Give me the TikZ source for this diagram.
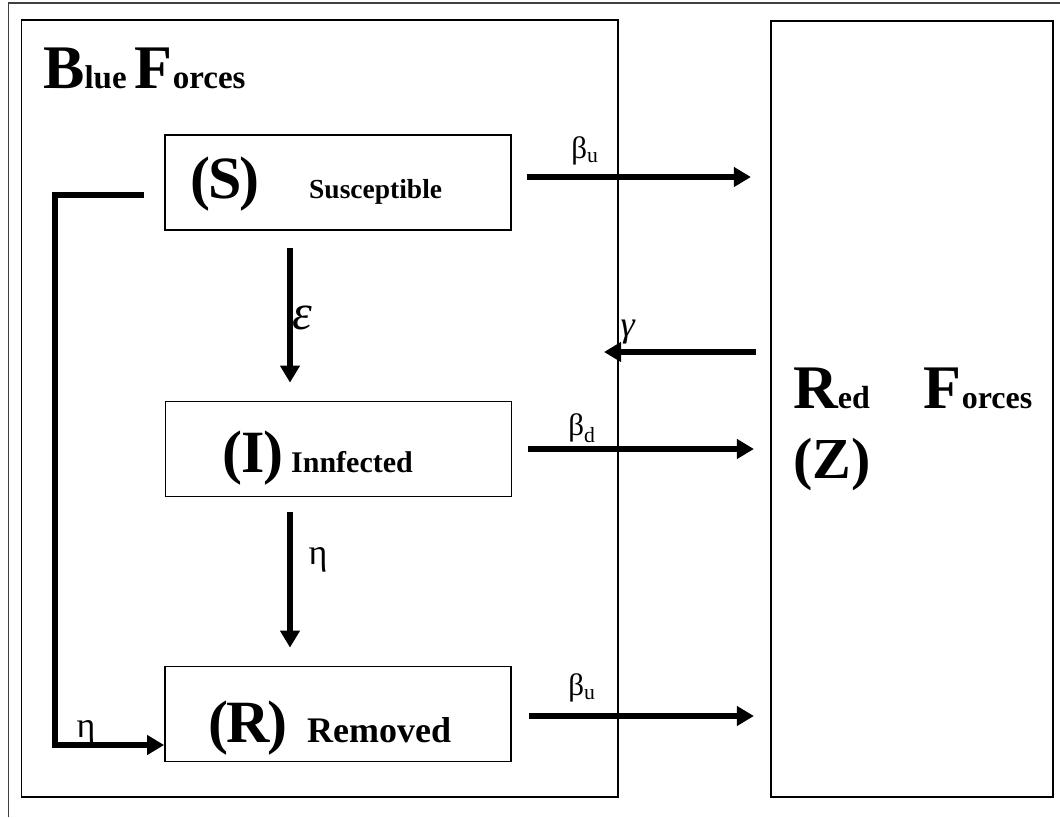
\documentclass[tikz,border=0pt]{standalone}
\usepackage{fontspec}
\setmainfont{Liberation Serif}
\usetikzlibrary{arrows.meta}

% font sizes given in points (1pt = one unit of the picture)
\newcommand\fsz[1]{\fontsize{#1}{#1}\selectfont}

\begin{document}
\begin{tikzpicture}[x=1pt,y=-1pt,
  region/.style={draw, line width=1.6pt, inner sep=0pt},
  stage/.style={draw, line width=1.8pt, inner sep=0pt, minimum width=346pt, minimum height=95pt},
  title/.style={inner sep=0pt, anchor=base west, font=\bfseries},
  flow/.style={line width=6pt, -{Triangle[length=17pt,width=19pt]}},
  rate/.style={inner sep=0pt, font=\fsz{31}}
]
\useasboundingbox (0,0) rectangle (1060,817);

% page frame
\draw[line width=1.5pt, black!75] (8.5,817) -- (8.5,3) -- (1060,3);

% the two force regions
\node[region, minimum width=596.5pt, minimum height=777pt] (blue) at (319.75,408.5) {};
\node[region, minimum width=282.3pt, minimum height=776pt] (red) at (911.85,409) {};

\node[title] (bluetitle) at (43,88) {\fsz{62}B\fsz{33}lue \fsz{62}F\fsz{33}orces};
\node[title] (redtitle) at (793,408) {\fsz{62}R\fsz{32}ed\hspace{54pt}\fsz{62}F\fsz{32}orces};
\node[title] (redz) at (793,478) {\fsz{58}(Z)};

% compartments of the blue forces
\node[stage] (S) at (338,182.5) {};
\node[stage] (I) at (338.5,449) {};
\node[stage] (R) at (338,714) {};

\node[title] (Stext) at (190,198) {\makebox[119pt][l]{\fsz{60}(\kern-2pt S\kern-2pt)}\fsz{27.5}Susceptible};
\node[title] (Itext) at (222,472) {\makebox[69pt][l]{\fsz{60}(\kern-1pt I\kern-1pt)}\fsz{30}Innfected};
\node[title] (Rtext) at (208,742) {\makebox[99pt][l]{\fsz{60}(\kern-2pt R\kern-2pt)}\fsz{36}Removed};

% transitions inside the blue forces
\draw[flow, shorten <=17pt, shorten >=18pt] ([xshift=-48pt]S.south) -- ([xshift=-48.5pt]I.north);
\draw[flow, shorten <=15pt, shorten >=18pt] ([xshift=-48.5pt]I.south) -- ([xshift=-48pt]R.north);
\coordinate (corner) at (55,745);
\draw[flow, shorten <=20pt, line join=miter] ([yshift=-12pt]S.west) -| (corner) -- (corner -| R.west);

% interactions with the red forces
\draw[flow, shorten <=15pt, shorten >=19pt] ([yshift=5.5pt]S.east) -- ([yshift=5.5pt]S.east -| red.west);
\coordinate (gtip) at (604,352);
\draw[flow, shorten <=14pt] (red.west |- gtip) -- (gtip);
\draw[flow, shorten <=16pt, shorten >=16pt] (I.east) -- (I.east -| red.west);
\draw[flow, shorten <=17pt, shorten >=16pt] ([yshift=-2pt]R.east) -- ([yshift=-2pt]R.east -| red.west);

% rates
\node[rate] (b1) at (585,151) {β\textsubscript{u}};
\node[rate, font=\fsz{36}] (g1) at (628,332) {\textit{γ}};
\node[rate] (b2) at (582,428) {β\textsubscript{d}};
\node[rate] (b3) at (582,688) {β\textsubscript{u}};
\node[rate, font=\fsz{50}] (e1) at (302,318) {\textit{ε}};
\node[rate, font=\fsz{36}] (h1) at (318,560) {η};
\node[rate, font=\fsz{36}] (h2) at (86,733) {η};
\end{tikzpicture}
\end{document}
